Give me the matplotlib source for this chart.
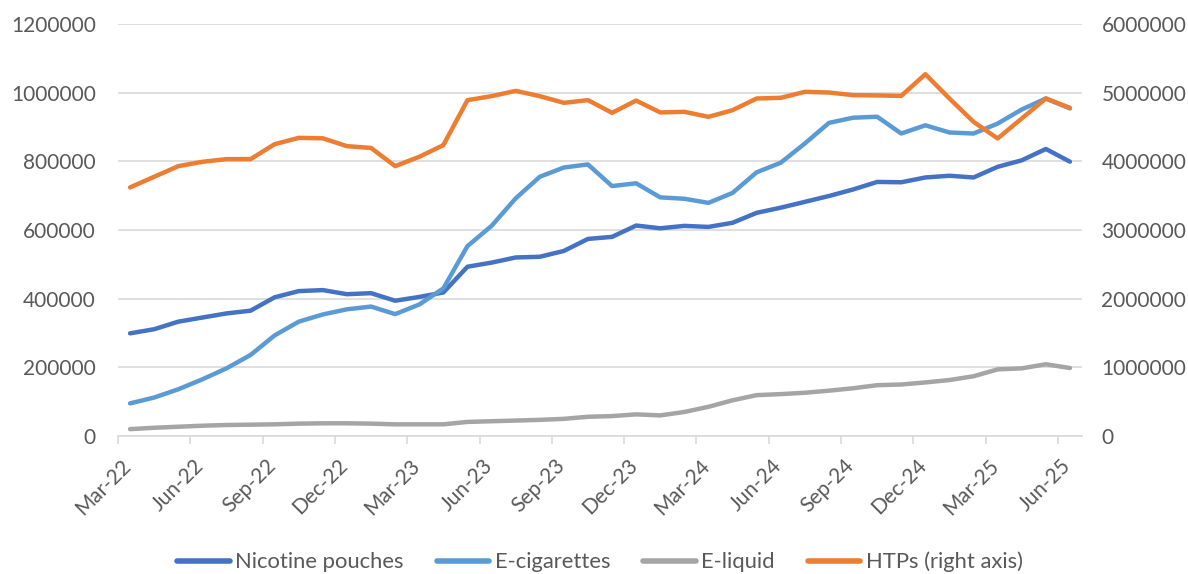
import matplotlib
matplotlib.use("Agg")
import matplotlib.pyplot as plt
import matplotlib.transforms as mtransforms
import pandas as pd

months = pd.date_range("2022-03-01", "2025-06-01", freq="MS").strftime("%b-%y").tolist()

nicotine_pouches = [299000, 311000, 333000, 345000, 357000, 365000, 404000, 422000, 425000, 413000,
                    416000, 394000, 405000, 418000, 493000, 505000, 520000, 522000, 539000, 574000,
                    580000, 613000, 605000, 612000, 609000, 621000, 650000, 665000, 682000, 699000,
                    718000, 740000, 739000, 753000, 758000, 753000, 784000, 803000, 836000, 799000]
e_cigarettes = [95000, 112000, 136000, 165000, 197000, 236000, 293000, 333000, 354000, 369000,
                377000, 355000, 383000, 430000, 553000, 612000, 692000, 755000, 782000, 791000,
                728000, 736000, 695000, 691000, 679000, 708000, 768000, 796000, 852000, 912000,
                927000, 930000, 881000, 905000, 884000, 881000, 910000, 951000, 983000, 954000]
e_liquid = [20000, 24000, 27000, 30000, 32000, 33000, 34000, 36000, 37000, 37000,
            36000, 34000, 34000, 34000, 41000, 43000, 45000, 47000, 50000, 56000,
            58000, 63000, 60000, 70000, 85000, 104000, 119000, 122000, 126000, 132000,
            139000, 148000, 150000, 156000, 163000, 174000, 194000, 197000, 209000, 198000]
htps = [3620000, 3775000, 3930000, 3993000, 4032000, 4032000, 4250000, 4342000, 4335000, 4221000,
        4195000, 3930000, 4066000, 4236000, 4891000, 4949000, 5026000, 4949000, 4852000, 4891000,
        4706000, 4885000, 4712000, 4721000, 4648000, 4745000, 4915000, 4925000, 5012000, 5002000,
        4964000, 4960000, 4953000, 5269000, 4915000, 4575000, 4333000, 4624000, 4915000, 4779000]

series_names = ["Nicotine pouches", "E-cigarettes", "E-liquid", "HTPs (right axis)"]
left_ticks = [0, 200000, 400000, 600000, 800000, 1000000, 1200000]
right_ticks = [0, 1000000, 2000000, 3000000, 4000000, 5000000, 6000000]

plt.rcParams['font.family'] = ['Lato', 'DejaVu Sans']
TXT = "#595959"
GRID = "#D9D9D9"
FS = 15

fig = plt.figure(figsize=(11.88, 5.74), dpi=100)
ax = fig.add_axes([118/1188, 1-436/574, (1082-118)/1188, (436-24)/574])
ax2 = ax.twinx()

x = list(range(len(months)))
lw = 3.2
l1, = ax.plot(x, nicotine_pouches, color="#4472C4", lw=lw, solid_capstyle="round", solid_joinstyle="round")
l2, = ax.plot(x, e_cigarettes, color="#5B9BD5", lw=lw, solid_capstyle="round", solid_joinstyle="round")
l3, = ax.plot(x, e_liquid, color="#A5A5A5", lw=lw, solid_capstyle="round", solid_joinstyle="round")
l4, = ax2.plot(x, htps, color="#ED7D31", lw=lw, solid_capstyle="round", solid_joinstyle="round")

ax.set_xlim(-0.5, len(months) - 0.5)
ax.set_ylim(0, 1200000)
ax2.set_ylim(0, 6000000)
ax.set_yticks(left_ticks)
ax.set_yticklabels([str(v) for v in left_ticks])
ax2.set_yticks(right_ticks)
ax2.set_yticklabels([str(v) for v in right_ticks])

ax.grid(axis="y", color=GRID, lw=1.2)
ax.set_axisbelow(True)
for a in (ax, ax2):
    for s in a.spines.values():
        s.set_visible(False)
ax.spines["bottom"].set_visible(True)
ax.spines["bottom"].set_color(GRID)
ax.spines["bottom"].set_linewidth(1.2)

ax.tick_params(axis="y", length=0, pad=16, labelsize=FS, labelcolor=TXT)
ax2.tick_params(axis="y", length=0, pad=14, labelsize=FS, labelcolor=TXT)

lab_pos = list(range(0, len(months), 3))
ax.set_xticks(lab_pos)
ax.set_xticklabels([months[i] for i in lab_pos], rotation=45, ha="right")
ax.set_xticks([p - 0.5 for p in lab_pos], minor=True)
ax.tick_params(axis="x", which="major", length=0, pad=14, labelsize=FS, labelcolor=TXT)
ax.tick_params(axis="x", which="minor", length=6, width=1.2, color=GRID)
offset = mtransforms.ScaledTranslation(5/100, 0, fig.dpi_scale_trans)
for t in ax.get_xticklabels():
    t.set_transform(t.get_transform() + offset)

leg = fig.legend([l1, l2, l3, l4], series_names, loc="center", bbox_to_anchor=(0.505, 1-562/574),
                 ncol=4, frameon=False, fontsize=15.8, handlelength=2.4, handletextpad=0.25,
                 columnspacing=1.5)
for t in leg.get_texts():
    t.set_color(TXT)
for h in leg.get_lines():
    h.set_linewidth(4)

fig.savefig("out.png", dpi=100)
